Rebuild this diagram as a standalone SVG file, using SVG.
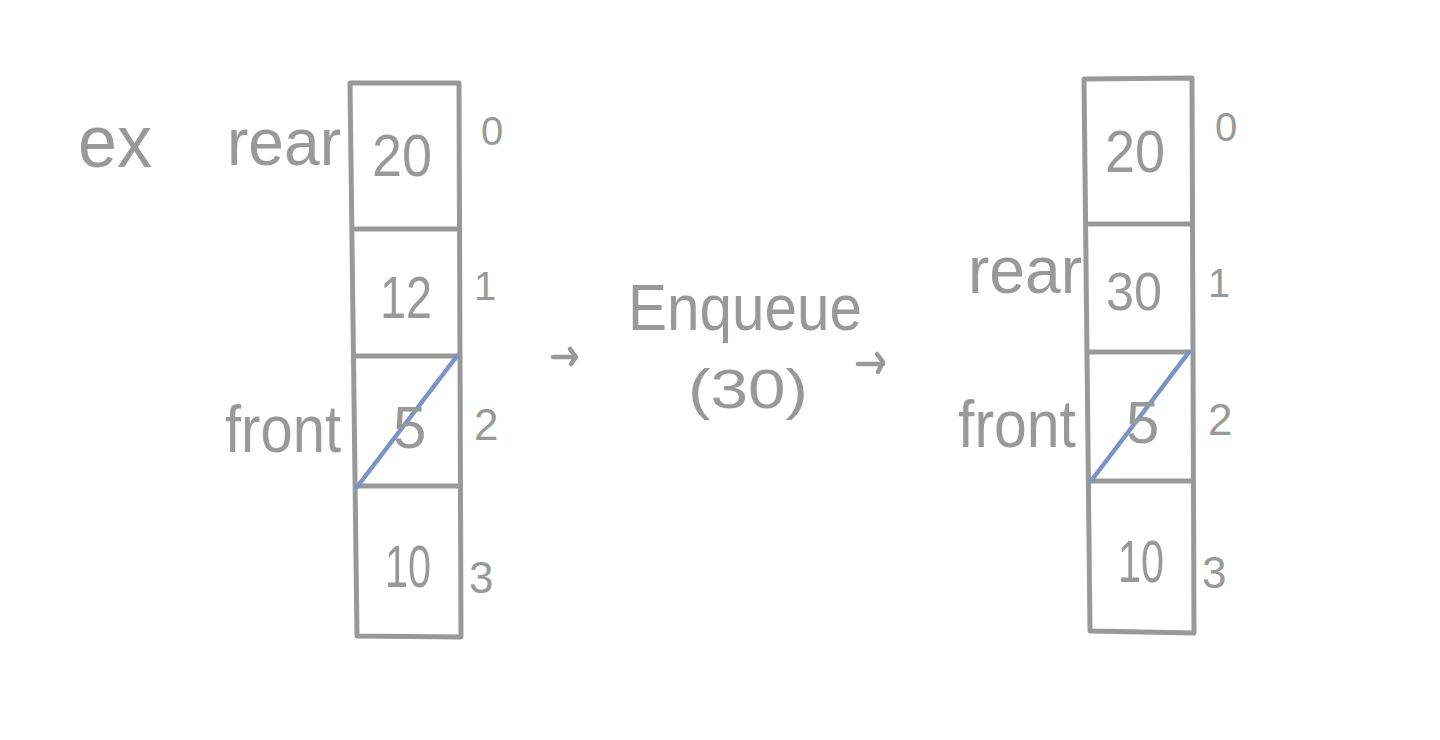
<svg xmlns="http://www.w3.org/2000/svg" width="1440" height="740" viewBox="0 0 1440 740">
<style>
.ln{stroke:#999;stroke-width:5;fill:none;stroke-linecap:round;stroke-linejoin:round}
.bl{stroke:#7b93c7;stroke-width:4.5;fill:none;stroke-linecap:round}
.t{font-family:"Liberation Sans",Arial,sans-serif;fill:#999}
.ar{stroke:#999;stroke-width:4.5;fill:none;stroke-linecap:round;stroke-linejoin:round}
</style>
<rect width="1440" height="740" fill="#fff"/>
<text class="t" x="78" y="167" font-size="74" textLength="74" lengthAdjust="spacingAndGlyphs">ex</text>
<g id="left-array">
<path class="ln" d="M350,83 L459,83 L461,637 L357,636 Z"/>
<path class="ln" d="M356,229 L458,229"/>
<path class="ln" d="M355,356 L458,356"/>
<path class="ln" d="M357,486 L460,486"/>
<path class="bl" d="M357,487 L457,356"/>
<text class="t" x="227" y="165" font-size="66" textLength="114" lengthAdjust="spacingAndGlyphs">rear</text>
<text class="t" x="372" y="176" font-size="60" textLength="60" lengthAdjust="spacingAndGlyphs">20</text>
<text class="t" x="481" y="145" font-size="40">0</text>
<text class="t" x="380" y="318" font-size="60" textLength="52" lengthAdjust="spacingAndGlyphs">12</text>
<text class="t" x="474" y="300" font-size="40">1</text>
<text class="t" x="225" y="452" font-size="66" textLength="116" lengthAdjust="spacingAndGlyphs">front</text>
<text class="t" x="393" y="448" font-size="60">5</text>
<text class="t" x="474" y="440" font-size="44">2</text>
<text class="t" x="385" y="587" font-size="60" textLength="46" lengthAdjust="spacingAndGlyphs">10</text>
<text class="t" x="469" y="593" font-size="44">3</text>
</g>
<g id="operation">
<text class="t" x="628" y="330" font-size="64" textLength="234" lengthAdjust="spacingAndGlyphs">Enqueue</text>
<text class="t" x="688" y="408" font-size="56" textLength="120" lengthAdjust="spacingAndGlyphs">(30)</text>
</g>
<g id="connectors">
<path class="ar" d="M553,357 L576,357 M570,349 L576,357 L571,364"/>
<path class="ar" d="M858,364 L883,364 M877,354 L883,362 L878,372"/>
</g>
<g id="right-array">
<path class="ln" d="M1084,79 L1192,78 L1194,633 L1090,631 Z"/>
<path class="ln" d="M1089,224 L1190,224"/>
<path class="ln" d="M1088,352 L1189,352"/>
<path class="ln" d="M1090,481 L1192,481"/>
<path class="bl" d="M1091,481 L1189,352"/>
<text class="t" x="1105" y="172" font-size="60" textLength="60" lengthAdjust="spacingAndGlyphs">20</text>
<text class="t" x="1215" y="141" font-size="40">0</text>
<text class="t" x="968" y="293" font-size="66" textLength="114" lengthAdjust="spacingAndGlyphs">rear</text>
<text class="t" x="1106" y="310" font-size="54" textLength="56" lengthAdjust="spacingAndGlyphs">30</text>
<text class="t" x="1208" y="297" font-size="40">1</text>
<text class="t" x="958" y="447" font-size="66" textLength="118" lengthAdjust="spacingAndGlyphs">front</text>
<text class="t" x="1126" y="443" font-size="60">5</text>
<text class="t" x="1208" y="435" font-size="44">2</text>
<text class="t" x="1118" y="582" font-size="60" textLength="46" lengthAdjust="spacingAndGlyphs">10</text>
<text class="t" x="1202" y="588" font-size="44">3</text>
</g>
</svg>
